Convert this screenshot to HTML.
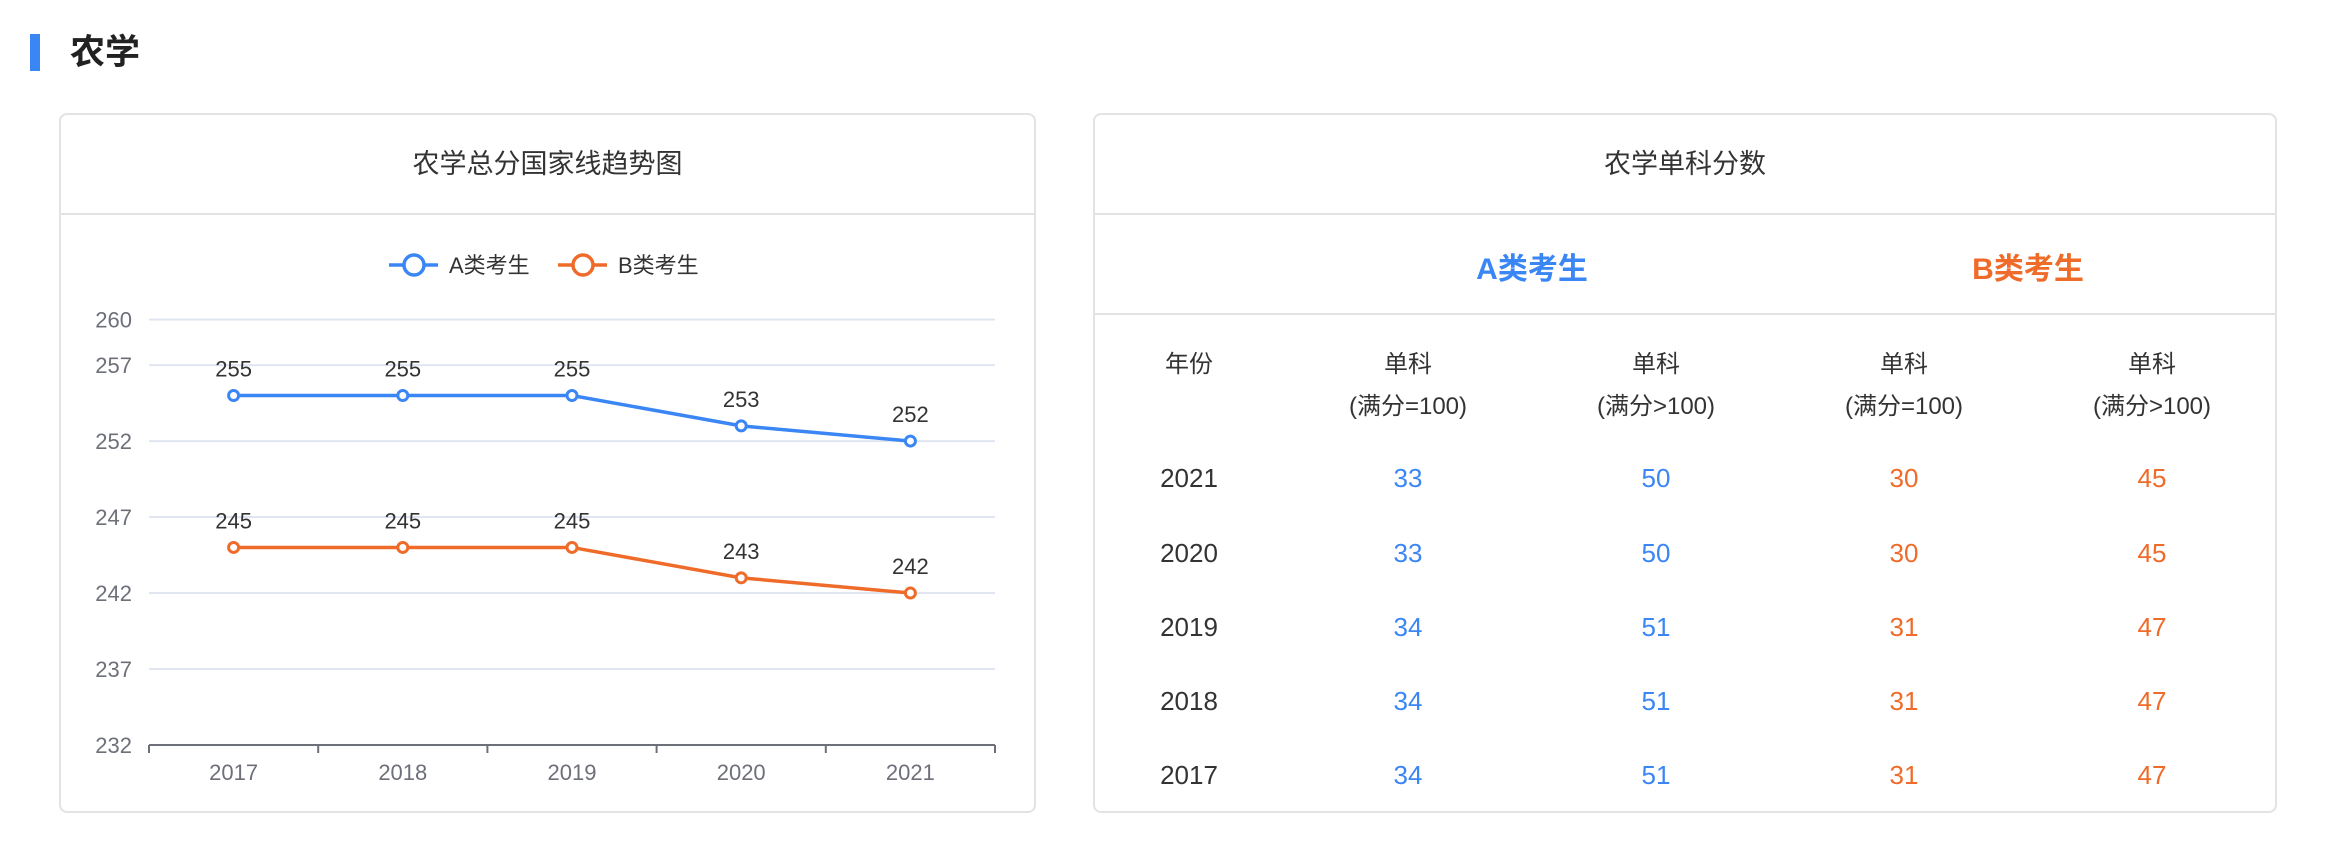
<!DOCTYPE html>
<html><head><meta charset="utf-8"><style>
body{margin:0;width:2328px;height:846px;background:#fff;font-family:"Liberation Sans","Noto Sans CJK SC",sans-serif;position:relative;overflow:hidden;color:#333}
.abs{position:absolute}
.card{position:absolute;top:113px;height:700px;border:2px solid #e3e3e3;border-radius:8px;box-sizing:border-box;background:#fff}
.ctitle{position:absolute;left:0;right:0;top:0;height:98px;border-bottom:2px solid #e3e3e3;text-align:center;line-height:98px;font-size:27px;color:#333}
.cell{position:absolute;text-align:center;transform:translateX(-50%);white-space:nowrap}
</style></head><body>
<div class="abs" style="left:30px;top:34px;width:10px;height:37px;background:#3a86f5"></div>
<div class="abs" style="left:70px;top:30px;font-size:35px;font-weight:bold;color:#222;line-height:46px">农学</div>

<div class="card" style="left:59px;width:977px">
 <div class="ctitle">农学总分国家线趋势图</div>
</div>
<svg class="abs" style="left:0;top:0" width="1100" height="846" id="chart"></svg>

<div class="card" style="left:1093px;width:1184px">
 <div class="ctitle">农学单科分数</div>
 <div class="abs" style="left:0;right:0;top:98px;height:100px;border-bottom:2px solid #e3e3e3"></div>
</div>
<div class="cell" style="left:1532px;top:244px;font-size:30px;font-weight:bold;color:#3a86f5">A类考生</div>
<div class="cell" style="left:2028px;top:244px;font-size:30px;font-weight:bold;color:#ef6b2a">B类考生</div>
<div id="table"></div>

<script>
const years=["2017","2018","2019","2020","2021"];
const seriesA=[255,255,255,253,252];
const seriesB=[245,245,245,243,242];
const yTicks=[260,257,252,247,242,237,232];
const svg=document.getElementById('chart');
const NS='http://www.w3.org/2000/svg';
const x0=149,x1=995,yMin=232,yMax=260,yTop=319.5,yBot=745;
const bw=(x1-x0)/years.length;
const xs=i=>x0+bw*(i+0.5);
const ys=v=>yBot-(v-yMin)/(yMax-yMin)*(yBot-yTop);
function mk(tag,attrs){const e=document.createElementNS(NS,tag);for(const k in attrs)e.setAttribute(k,attrs[k]);svg.appendChild(e);return e;}
yTicks.forEach(t=>{
 if(t!==yMin){const g=mk('line',{x1:x0,x2:x1,y1:ys(t),y2:ys(t),stroke:'#e0e6f1','stroke-width':2});
 
 }
 const l=mk('text',{x:132,y:ys(t)+8,'text-anchor':'end','font-size':22,fill:'#6e7079'});l.textContent=t;
 
 
});
const ax=mk('line',{x1:x0,x2:x1,y1:yBot,y2:yBot,stroke:'#6e7079','stroke-width':2});


for(let i=0;i<=years.length;i++){const tk=mk('line',{x1:x0+bw*i,x2:x0+bw*i,y1:yBot,y2:yBot+8,stroke:'#6e7079','stroke-width':2});
 
 }
years.forEach((y,i)=>{const t=mk('text',{x:xs(i),y:780,'text-anchor':'middle','font-size':22,fill:'#6e7079'});t.textContent=y;
 
 });
function series(vals,color,name){
 const p=mk('polyline',{points:vals.map((v,i)=>xs(i)+','+ys(v)).join(' '),fill:'none',stroke:color,'stroke-width':3.5});
 
 
 vals.forEach((v,i)=>{
  const c=mk('circle',{cx:xs(i),cy:ys(v),r:5,fill:'#fff',stroke:color,'stroke-width':3});
  
  
  const t=mk('text',{x:xs(i),y:ys(v)-19,'text-anchor':'middle','font-size':22,fill:'#333'});t.textContent=v;
  
  
 });
}
series(seriesA,'#3a86f5','series-a');
series(seriesB,'#ef6b2a','series-b');
function legend(x,color,label,name){
 const l=mk('line',{x1:x,x2:x+49,y1:265,y2:265,stroke:color,'stroke-width':3.5});
 
 
 const c=mk('circle',{cx:x+25,cy:265,r:10,fill:'#fff',stroke:color,'stroke-width':3.5});
 
 
 const t=mk('text',{x:x+60,y:273,'font-size':22,fill:'#333'});t.textContent=label;
 
 
}
legend(389,'#3a86f5','A类考生','series-a');
legend(558,'#ef6b2a','B类考生','series-b');

// table
const cols=[1189,1408,1656,1904,2152];
const tableYears=["2021","2020","2019","2018","2017"];
const aFull100=[33,33,34,34,34];
const aOver100=[50,50,51,51,51];
const bFull100=[30,30,31,31,31];
const bOver100=[45,45,47,47,47];
const rowY=[479,554,628,702,776];
const tb=document.getElementById('table');
function cell(x,y,txt,color,size,name){const d=document.createElement('div');d.className='cell';d.style.left=x+'px';d.style.top=(y-size*0.6)+'px';d.style.fontSize=size+'px';d.style.color=color;d.textContent=txt;
 
 
 tb.appendChild(d);}
cell(cols[0],358,'年份','#333',24,'header-year');
const heads=['(满分=100)','(满分>100)','(满分=100)','(满分>100)'];
heads.forEach((h,i)=>{cell(cols[i+1],358,'单科','#333',24,'header-subject');cell(cols[i+1],400,h,'#333',24,'header-subject-note');});
tableYears.forEach((y,r)=>{
 cell(cols[0],rowY[r],y,'#333',26,'year-cell');
 cell(cols[1],rowY[r],aFull100[r],'#3a86f5',26,'a-full100-cell');
 cell(cols[2],rowY[r],aOver100[r],'#3a86f5',26,'a-over100-cell');
 cell(cols[3],rowY[r],bFull100[r],'#ef6b2a',26,'b-full100-cell');
 cell(cols[4],rowY[r],bOver100[r],'#ef6b2a',26,'b-over100-cell');
});
</script>
</body></html>
